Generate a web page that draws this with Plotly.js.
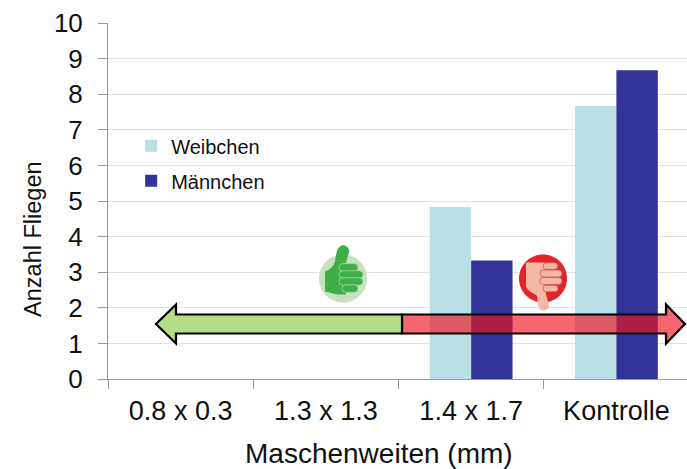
<!DOCTYPE html>
<html><head><meta charset="utf-8">
<script src="https://cdn.plot.ly/plotly-3.0.1.min.js"></script>
<style>html,body{margin:0;padding:0;background:#fff}</style></head>
<body><div id="c" style="width:687px;height:469px"></div>
<script>
const categories = ["0.8 x 0.3", "1.3 x 1.3", "1.4 x 1.7", "Kontrolle"];
const weibchen = [0, 0, 4.83, 7.67];
const maennchen = [0, 0, 3.33, 8.67];
const font = "Liberation Sans, Arial, sans-serif";
const PL = 108, PT = 22.5, W = 687, H = 469, PB = 89.5;

// decorations positioned in plot pixels, y measured downwards on the page
function P(x, y){ return (x - PL) + "," + (PT - y); }
function poly(pts){ return "M" + pts.map(p => P(p[0], p[1])).join("L") + "Z"; }
function circ(cx, cy, r){
  const k = 0.5523 * r;
  return "M" + P(cx + r, cy)
    + "C" + P(cx + r, cy + k) + " " + P(cx + k, cy + r) + " " + P(cx, cy + r)
    + "C" + P(cx - k, cy + r) + " " + P(cx - r, cy + k) + " " + P(cx - r, cy)
    + "C" + P(cx - r, cy - k) + " " + P(cx - k, cy - r) + " " + P(cx, cy - r)
    + "C" + P(cx + k, cy - r) + " " + P(cx + r, cy - k) + " " + P(cx + r, cy) + "Z";
}
function pill(x0, x1, yc, h){
  const r = h / 2;
  return "M" + P(x0 + r, yc - r) + "L" + P(x1 - r, yc - r)
    + "Q" + P(x1, yc - r) + " " + P(x1, yc) + "Q" + P(x1, yc + r) + " " + P(x1 - r, yc + r)
    + "L" + P(x0 + r, yc + r)
    + "Q" + P(x0, yc + r) + " " + P(x0, yc) + "Q" + P(x0, yc - r) + " " + P(x0 + r, yc - r) + "Z";
}
function sh(path, fill, lineColor, lineW, layer){
  return {type:"path", xref:"paper", yref:"paper", xsizemode:"pixel", ysizemode:"pixel",
    xanchor:0, yanchor:1, path:path, fillcolor:fill, layer:layer||"above",
    line:{color:lineColor||"rgba(0,0,0,0)", width:lineW||0}};
}
const shapes = [];
// arrows
const arrowTop = 314, arrowBot = 333, arrowMid = 323.5;
shapes.push(sh(poly([[402,arrowTop],[666,arrowTop],[666,304],[685,arrowMid],[666,343],[666,arrowBot],[402,arrowBot]]),
  "rgba(240,20,30,0.65)", "#000", 2.2));
shapes.push(sh(poly([[402,arrowTop],[176,arrowTop],[176,304],[156,arrowMid],[176,343],[176,arrowBot],[402,arrowBot]]),
  "#b5dc88", "#000", 2.2));
// thumbs up
const ux = 343, uy = 278;
shapes.push(sh(circ(ux, uy, 24), "#c8e0c0"));
shapes.push(sh("M" + P(ux-18,uy+13) + "L" + P(ux-18,uy-7) + "Q" + P(ux-10,uy-10) + " " + P(ux-8,uy-17)
  + "L" + P(ux-6,uy-28) + "Q" + P(ux-3,uy-34) + " " + P(ux+2,uy-33) + "Q" + P(ux+7,uy-31) + " " + P(ux+6,uy-26)
  + "L" + P(ux+3,uy-16) + "L" + P(ux+3,uy+16) + "L" + P(ux-6,uy+16) + "Z", "#3fae49"));
[[-4,15,-11,8],[-4,20,-4,7.5],[-4,20,3,7.5],[-1,15,10,7.5]].forEach(f =>
  shapes.push(sh(pill(ux+f[0], ux+f[1], uy+f[2], f[3]), "#3fae49", "#a9d6a0", 0.8)));
// thumbs down
const dx = 543, dy = 278;
shapes.push(sh(circ(dx, dy, 24), "#e2252b"));
shapes.push(sh("M" + P(dx-17,dy-16) + "L" + P(dx+2,dy-16) + "L" + P(dx+3,dy+16) + "L" + P(dx+6,dy+27)
  + "Q" + P(dx+6,dy+32) + " " + P(dx,dy+32) + "Q" + P(dx-4,dy+32) + " " + P(dx-5,dy+27)
  + "L" + P(dx-6,dy+17) + "Q" + P(dx-16,dy+12) + " " + P(dx-17,dy+8) + "Z", "#f4b9a4"));
[[0,15,-12.5,6.5],[-3,19,-5,7],[-3.5,19,2.5,7],[0,15,10,6.5]].forEach(f =>
  shapes.push(sh(pill(dx+f[0], dx+f[1], dy+f[2], f[3]), "#f4b9a4", "#d9534f", 0.8)));

const traces = [
  {type:"bar", name:"Weibchen", x:categories, y:weibchen, marker:{color:"#b9e0e4"}, legendgroup:"w"},
  {type:"bar", name:"Männchen", x:categories, y:maennchen, marker:{color:"#333399"}, legendgroup:"m"}
];
const plotW = W - PL, plotH = H - PT - PB;
const layout = {
  width:W, height:H, paper_bgcolor:"#fff", plot_bgcolor:"#fff",
  margin:{l:PL, r:0, t:PT, b:PB, pad:0},
  barmode:"group", bargap:0.43, bargroupgap:0,
  font:{family:font, color:"#111"},
  showlegend:true,
  legend:{x:0.04, y:0.71, xanchor:"left", yanchor:"top", bgcolor:"rgba(0,0,0,0)",
    font:{size:20, family:font, color:"#111"}, traceorder:"grouped", tracegroupgap:6, itemclick:false},
  xaxis:{type:"category", range:[-0.5,3.486], tickson:"boundaries", ticks:"outside", ticklen:9, tickwidth:1,
    tickcolor:"#9a9a9a", showline:true, linecolor:"#9a9a9a", linewidth:1, showgrid:false,
    ticklabelstandoff:8,
    tickfont:{size:27, family:font, color:"#111"}},
  yaxis:{range:[0,10], dtick:1, ticks:"outside", ticklen:9, tickwidth:1, tickcolor:"#9a9a9a",
    showline:true, linecolor:"#9a9a9a", linewidth:1, gridcolor:"#e2e2e2", gridwidth:1, zeroline:false,
    ticklabelstandoff:10,
    tickfont:{size:26, family:font, color:"#111"}},
  annotations:[
    {text:"Maschenweiten (mm)", xref:"paper", yref:"paper", x:(378.5-PL)/plotW, y:(PT+plotH-472)/plotH,
     xanchor:"center", yanchor:"bottom", showarrow:false, font:{size:28, family:font, color:"#111"}},
    {text:"Anzahl Fliegen", xref:"paper", yref:"paper", x:(33-PL)/plotW, y:(PT+plotH-240)/plotH,
     xanchor:"center", yanchor:"middle", textangle:-90, showarrow:false, font:{size:23.5, family:font, color:"#111"}}
  ],
  shapes:shapes
};
Plotly.newPlot("c", traces, layout, {displayModeBar:false, staticPlot:true});
</script></body></html>
